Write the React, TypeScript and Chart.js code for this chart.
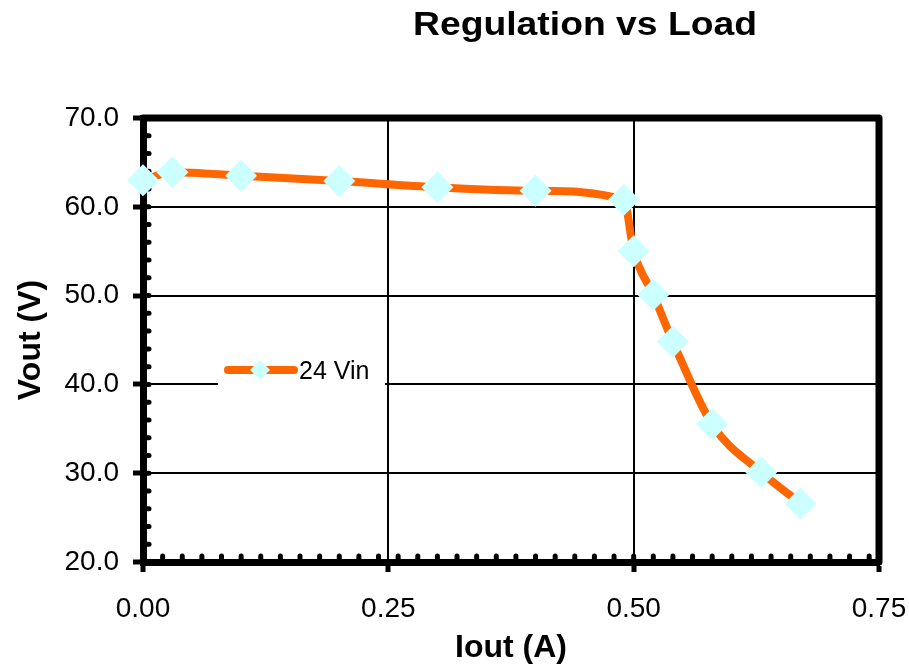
import React, { useEffect, useRef } from "react";
import { Chart, registerables } from "chart.js";

Chart.register(...registerables);

// ---- data ----
const iout = [0, 0.03, 0.1, 0.2, 0.3, 0.4, 0.49, 0.5, 0.52, 0.54, 0.58, 0.63, 0.67];
const vout = [63.0, 63.9, 63.5, 62.9, 62.2, 61.8, 60.8, 55.0, 50.1, 44.8, 35.5, 30.1, 26.6];
const seriesName = "24 Vin";
const chartTitle = "Regulation vs Load";
const xTitle = "Iout (A)";
const yTitle = "Vout (V)";
const xMin = 0;
const xMax = 0.75;
const xStep = 0.25;
const xMinorStep = 0.02;
const yMin = 20;
const yMax = 70;
const yStep = 10;
const yMinorStep = 2;

const FONT = '"Liberation Sans", Arial, Helvetica, sans-serif';
const ORANGE = "#FF6600";
const CYAN = "#CCFFFF";

const framePlugin = {
  id: "frame",
  beforeDatasetsDraw(chart: any) {
    const { ctx, chartArea, scales } = chart;
    const { left, right, top, bottom } = chartArea;
    ctx.save();
    ctx.strokeStyle = "#000";
    ctx.lineWidth = 7;
    ctx.lineJoin = "round";
    ctx.lineCap = "round";
    ctx.beginPath();
    ctx.moveTo(left, top);
    ctx.lineTo(right, top);
    ctx.lineTo(right, bottom);
    ctx.stroke();
    // minor ticks (inside)
    ctx.lineWidth = 5;
    ctx.lineCap = "round";
    const nx = Math.round((xMax - xMin) / xMinorStep);
    for (let k = 1; k < nx; k++) {
      const px = scales.x.getPixelForValue(xMin + k * xMinorStep);
      ctx.beginPath();
      ctx.moveTo(px, bottom);
      ctx.lineTo(px, bottom - 6);
      ctx.stroke();
    }
    const ny = Math.round((yMax - yMin) / yMinorStep);
    for (let k = 1; k < ny; k++) {
      const py = scales.y.getPixelForValue(yMin + k * yMinorStep);
      ctx.beginPath();
      ctx.moveTo(left, py);
      ctx.lineTo(left + 6, py);
      ctx.stroke();
    }
    ctx.restore();
  },
};

const overlayPlugin = {
  id: "overlay",
  afterDraw(chart: any) {
    const { ctx } = chart;
    ctx.save();
    // title
    ctx.fillStyle = "#000";
    ctx.font = `bold 33px ${FONT}`;
    ctx.textAlign = "center";
    ctx.textBaseline = "alphabetic";
    ctx.translate(585, 35);
    ctx.scale(1.13, 1);
    ctx.fillText(chartTitle, 0, 0);
    ctx.restore();

    // legend
    ctx.save();
    ctx.fillStyle = "#fff";
    ctx.fillRect(218, 354, 167, 34);
    ctx.strokeStyle = ORANGE;
    ctx.lineWidth = 8;
    ctx.lineCap = "round";
    ctx.beginPath();
    ctx.moveTo(228, 370);
    ctx.lineTo(294, 370);
    ctx.stroke();
    const cx = 260;
    const cy = 370;
    const r = 10;
    ctx.fillStyle = CYAN;
    ctx.beginPath();
    ctx.moveTo(cx - r, cy);
    ctx.lineTo(cx, cy - r);
    ctx.lineTo(cx + r, cy);
    ctx.lineTo(cx, cy + r);
    ctx.closePath();
    ctx.fill();
    ctx.fillStyle = "#000";
    ctx.font = `25px ${FONT}`;
    ctx.textAlign = "left";
    ctx.textBaseline = "middle";
    ctx.fillText(seriesName, 299, 372);
    ctx.restore();
  },
};

export default function App() {
  const ref = useRef<HTMLCanvasElement | null>(null);

  useEffect(() => {
    if (!ref.current) return;
    Chart.defaults.font.family = FONT;
    Chart.defaults.color = "#000";
    const chart = new Chart(ref.current, {
      type: "line",
      data: {
        datasets: [
          {
            label: seriesName,
            data: iout.map((x, i) => ({ x, y: vout[i] })),
            borderColor: ORANGE,
            backgroundColor: CYAN,
            borderWidth: 8,
            cubicInterpolationMode: "monotone",
            pointStyle: "rectRot",
            pointRadius: 16,
            pointBackgroundColor: CYAN,
            pointBorderColor: CYAN,
            pointBorderWidth: 0,
            clip: false as any,
          },
        ],
      },
      options: {
        responsive: false,
        animation: false,
        layout: { padding: { left: 0, right: 30, top: 118, bottom: 0 } },
        plugins: {
          legend: { display: false },
          tooltip: { enabled: false },
          title: { display: false },
        },
        scales: {
          x: {
            type: "linear",
            min: xMin,
            max: xMax,
            afterFit: (s: any) => {
              s.height = 108;
              s.paddingLeft = 0;
              s.paddingRight = 0;
            },
            ticks: {
              stepSize: xStep,
              padding: 20,
              font: { size: 28 },
              color: "#000",
              callback: (v: any) => Number(v).toFixed(2),
            },
            grid: {
              color: "#000",
              lineWidth: 2,
              tickLength: 10,
              tickWidth: 5,
              tickColor: "#000",
            },
            border: { display: true, color: "#000", width: 7 },
            title: {
              display: true,
              text: xTitle,
              font: { size: 32, weight: "bold" },
              color: "#000",
              padding: { top: 0, bottom: 3 },
            },
          },
          y: {
            type: "linear",
            min: yMin,
            max: yMax,
            afterFit: (s: any) => {
              s.width = 143;
              s.paddingTop = 0;
              s.paddingBottom = 0;
            },
            ticks: {
              stepSize: yStep,
              padding: 14,
              font: { size: 28 },
              color: "#000",
              callback: (v: any) => Number(v).toFixed(1),
            },
            grid: {
              color: "#000",
              lineWidth: 2,
              tickLength: 10,
              tickWidth: 5,
              tickColor: "#000",
            },
            border: { display: true, color: "#000", width: 7 },
            title: {
              display: true,
              text: yTitle,
              font: { size: 32, weight: "bold" },
              color: "#000",
              padding: { top: 12, bottom: 0 },
            },
          },
        },
      },
      plugins: [framePlugin, overlayPlugin],
    });
    return () => chart.destroy();
  }, []);

  return (
    <div style={{ position: "absolute", left: 0, top: 0, width: 909, height: 670, background: "#fff" }}>
      <canvas ref={ref} width={909} height={670} style={{ display: "block" }} />
    </div>
  );
}
